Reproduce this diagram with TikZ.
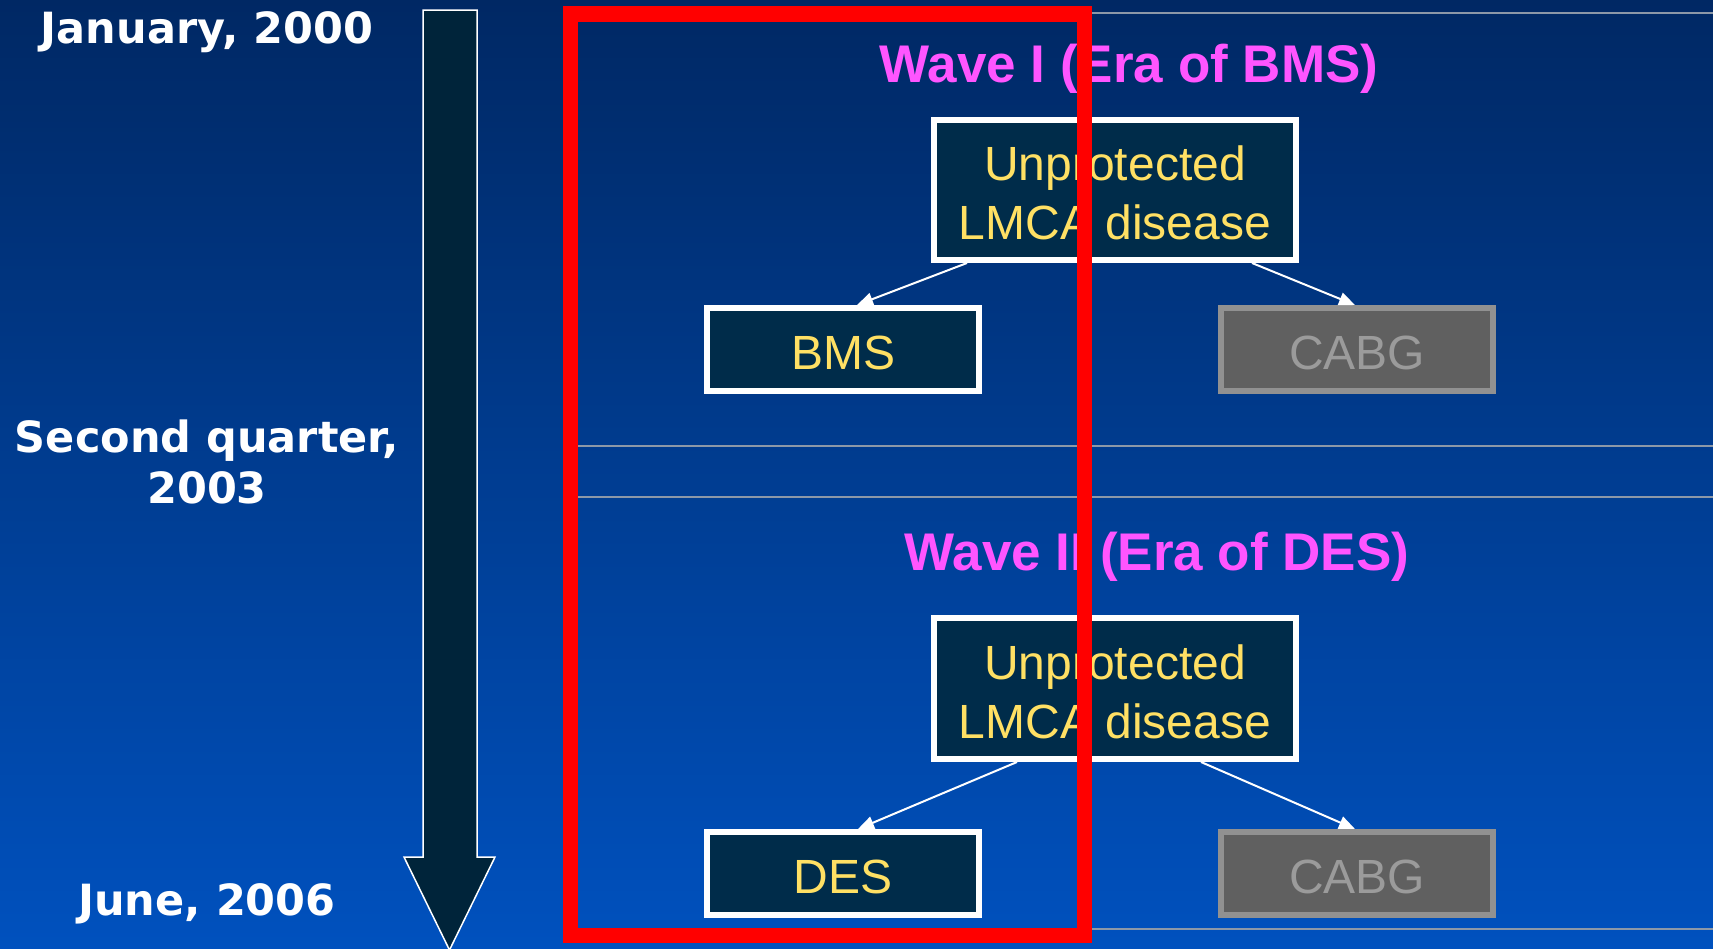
\documentclass[tikz,border=0pt]{standalone}
\usepackage{fontspec}
\setmainfont{Liberation Sans}
\newfontfamily\dvfont{DejaVu Sans}
\usetikzlibrary{arrows.meta}
\newcommand\dnshift[1]{\raisebox{-3.2bp}[\height][\depth]{#1}}
\definecolor{bgtop}{RGB}{0,40,100}
\definecolor{bgbot}{RGB}{0,81,190}
\definecolor{boxfill}{RGB}{0,44,74}
\definecolor{arrowfill}{RGB}{0,36,58}
\definecolor{txtyellow}{RGB}{255,224,100}
\definecolor{titlemag}{RGB}{255,85,255}
\definecolor{grayfill}{RGB}{96,96,96}
\definecolor{graybord}{RGB}{145,145,145}
\definecolor{graytxt}{RGB}{155,155,155}
\definecolor{rulegray}{RGB}{140,152,168}
\definecolor{hired}{RGB}{255,0,0}
\begin{document}
\begin{tikzpicture}[x=1bp,y=-1bp,
  box/.style={draw=white, line width=6bp, fill=boxfill, text=txtyellow,
    font=\fontsize{48bp}{59bp}\selectfont, inner sep=0pt, align=center},
  graybox/.style={draw=graybord, line width=6bp, fill=grayfill, text=graytxt,
    font=\fontsize{48bp}{59bp}\selectfont, inner sep=0pt, align=center},
  conn/.style={draw=white, line width=2bp, -{Triangle[length=16bp,width=13bp]}},
  wavetitle/.style={text=titlemag, font=\fontsize{53bp}{60bp}\selectfont\bfseries, anchor=base, inner sep=0pt},
  when/.style={text=white, font=\dvfont\bfseries\fontsize{43bp}{52bp}\selectfont, anchor=base, inner sep=0pt},
  tablerule/.style={draw=rulegray, line width=2.2bp}]
\useasboundingbox (0,0) rectangle (1713,948);
\shade[top color=bgtop, bottom color=bgbot] (0,0) rectangle (1713,948);

% timeline arrow
\draw[draw=white, line width=1.5bp, fill=arrowfill, line join=miter]
  (423,10) -- (477,10) -- (477,857) -- (495,857) -- (449.5,950) -- (404,857) -- (423,857) -- cycle;

% timeline labels
\node[when] (t1) at (207,43.5) {January, 2000};
\node[when] (t2a) at (207,452) {Second quarter,};
\node[when] (t2b) at (207,503.6) {2003};
\node[when] (t3) at (207,915.5) {June, 2006};

% table rules
\draw[tablerule] (570,13) -- (1713,13);
\draw[tablerule] (570,446) -- (1713,446);
\draw[tablerule] (570,497) -- (1713,497);
\draw[tablerule] (570,929) -- (1713,929);

% Wave I
\node[wavetitle] (w1) at (1129,82) {Wave I (Era of BMS)};
\node[box, minimum width=362bp, minimum height=140bp] (top1) at (1115,190) {\dnshift{Unprotected}\\\dnshift{LMCA disease}};
\node[box, minimum width=272bp, minimum height=83bp] (bms) at (843,349.5) {\dnshift{BMS}};
\node[graybox, minimum width=272bp, minimum height=83bp] (cabg1) at (1357,349.5) {\dnshift{CABG}};
\draw[conn] ([xshift=-148bp]top1.south) -- ([xshift=14bp]bms.north);
\draw[conn] ([xshift=137bp]top1.south) -- ([xshift=-2bp]cabg1.north);

% Wave II
\node[wavetitle] (w2) at (1157,570) {Wave II (Era of DES)};
\node[box, minimum width=362bp, minimum height=141bp] (top2) at (1115,688.5) {\dnshift{Unprotected}\\\dnshift{LMCA disease}};
\node[box, minimum width=272bp, minimum height=83bp] (des) at (843,873.5) {\dnshift{DES}};
\node[graybox, minimum width=272bp, minimum height=83bp] (cabg2) at (1357,873.5) {\dnshift{CABG}};
\draw[conn] ([xshift=-98bp]top2.south) -- ([xshift=15bp]des.north);
\draw[conn] ([xshift=86bp]top2.south) -- ([xshift=-2bp]cabg2.north);

% red highlight frame
\draw[hired, line width=15.5bp] (570.5,14) rectangle (1084.5,935.5);
\end{tikzpicture}
\end{document}
